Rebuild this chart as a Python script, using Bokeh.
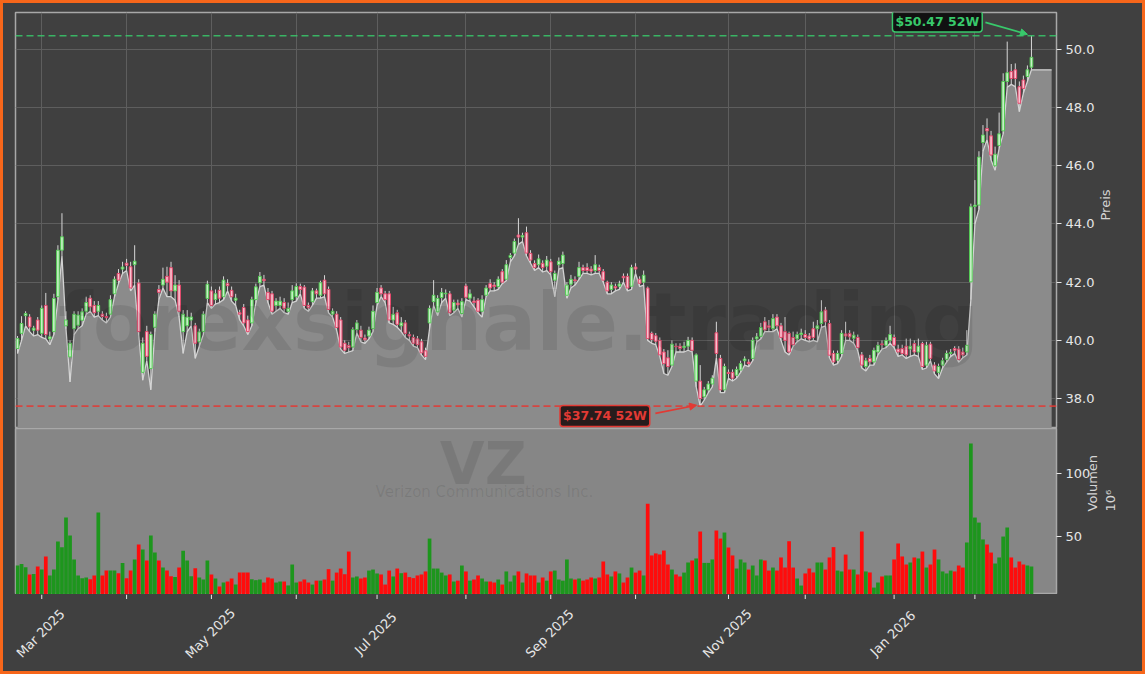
import math
import pandas as pd
from bokeh.plotting import figure
from bokeh.layouts import column
from bokeh.models import (Range1d, FixedTicker, PrintfTickFormatter, Span, Label, Arrow,
                          NormalHead, ColumnDataSource, Grid, GlobalInlineStyleSheet)
from bokeh.embed import file_html
from bokeh.resources import INLINE

symbol = "VZ"
company = "Verizon Communications Inc."
watermark = "forexsignale.trading"
price_label = "Preis"
volume_label = "Volumen\n10\u2076"

opens = [
    39.72, 40.24, 40.85, 40.80, 40.35, 40.70, 40.24, 41.20, 40.05, 40.30,
    41.50, 43.10, 40.70, 39.43, 40.40, 40.52, 40.69, 41.00, 41.45, 41.20,
    41.00, 40.90, 40.78, 40.90, 41.60, 42.30, 42.45, 42.65, 42.53, 42.60,
    41.97, 38.90, 40.30, 39.03, 40.45, 41.75, 41.90, 42.20, 42.50, 41.70,
    41.90, 40.90, 40.50, 40.70, 40.50, 39.95, 40.30, 41.44, 41.70, 41.40,
    41.72, 41.50, 41.95, 41.72, 41.38, 40.95, 41.13, 40.70, 40.60, 41.40,
    41.98, 42.10, 41.65, 41.60, 41.20, 41.35, 41.30, 41.10, 41.40, 41.50,
    41.85, 41.83, 41.20, 41.33, 41.60, 41.55, 42.07, 41.75, 41.00, 40.90,
    40.70, 39.90, 39.82, 39.77, 40.37, 40.35, 40.08, 40.15, 40.40, 41.30,
    41.80, 41.60, 41.60, 40.70, 40.95, 40.50, 40.60, 40.20, 40.10, 40.05,
    39.95, 39.64, 40.60, 41.33, 40.98, 41.47, 41.60, 41.60, 41.04, 41.28,
    40.92, 41.87, 41.45, 41.30, 41.38, 41.00, 41.55, 41.80, 41.90, 41.85,
    42.36, 42.10, 42.85, 43.00, 43.55, 43.60, 43.70, 42.99, 42.64, 42.60,
    42.65, 42.55, 42.70, 42.07, 42.60, 42.64, 41.55, 41.93, 42.05, 42.20,
    42.50, 42.40, 42.45, 42.40, 42.50, 42.36, 42.00, 41.75, 41.85, 41.86,
    42.15, 42.20, 41.86, 42.52, 42.10, 42.00, 41.80, 40.24, 40.16, 40.00,
    39.60, 39.10, 39.15, 39.80, 39.80, 39.75, 39.80, 40.00, 39.50, 38.60,
    38.06, 38.30, 38.50, 40.26, 39.38, 38.30, 38.90, 38.90, 38.80, 38.98,
    39.30, 39.25, 39.38, 40.05, 40.14, 40.64, 40.45, 40.40, 40.80, 40.50,
    40.00, 40.24, 39.85, 40.05, 40.20, 40.20, 40.15, 40.10, 40.40, 40.58,
    41.04, 40.58, 39.55, 39.32, 39.55, 40.22, 40.24, 40.18, 40.10, 39.50,
    39.10, 39.38, 39.26, 39.60, 39.85, 39.83, 40.00, 40.10, 39.70, 39.72,
    39.50, 39.80, 39.89, 39.60, 39.89, 39.15, 39.87, 39.15, 38.90, 39.15,
    39.34, 39.55, 39.72, 39.70, 39.50, 39.60, 42.01, 44.60, 44.65, 46.80,
    47.28, 47.03, 46.00, 46.70, 47.20, 48.90, 49.24, 49.00, 48.72, 48.95,
    49.07, 49.39]

highs = [
    40.15, 40.83, 41.00, 40.90, 40.50, 40.80, 41.20, 41.63, 40.30, 41.60,
    43.27, 44.37, 41.00, 40.00, 41.00, 41.00, 41.10, 41.50, 41.55, 41.35,
    41.35, 41.00, 40.95, 41.55, 42.20, 42.45, 42.70, 42.80, 42.70, 43.27,
    42.10, 40.10, 40.50, 40.30, 41.00, 41.90, 42.50, 42.53, 42.70, 42.24,
    42.07, 41.04, 41.04, 40.95, 40.60, 40.40, 41.00, 42.05, 41.85, 41.75,
    41.85, 42.20, 42.10, 41.85, 41.60, 41.05, 41.25, 40.85, 41.50, 41.95,
    42.35, 42.25, 41.80, 41.70, 41.45, 41.50, 41.45, 41.30, 41.90, 41.96,
    41.95, 41.90, 41.30, 41.80, 41.78, 42.05, 42.24, 41.85, 41.10, 41.00,
    40.80, 40.00, 39.95, 40.45, 40.70, 40.50, 40.20, 40.47, 41.20, 41.80,
    41.90, 41.70, 41.70, 41.15, 41.05, 40.80, 40.70, 40.30, 40.20, 40.15,
    40.05, 39.75, 41.20, 42.07, 41.55, 41.80, 41.75, 41.70, 41.40, 41.40,
    41.45, 41.95, 41.75, 41.50, 41.45, 41.55, 41.90, 42.10, 42.00, 42.20,
    42.45, 42.76, 43.00, 43.50, 44.20, 43.70, 43.91, 43.10, 42.75, 42.95,
    42.75, 42.90, 42.80, 42.40, 42.85, 43.05, 42.00, 42.25, 42.20, 42.70,
    42.60, 42.65, 42.55, 42.93, 42.60, 42.45, 42.05, 42.00, 41.95, 42.05,
    42.30, 42.30, 42.60, 42.65, 42.20, 42.40, 41.85, 40.30, 40.25, 40.10,
    39.70, 39.66, 40.00, 39.90, 39.90, 39.95, 40.12, 40.10, 39.55, 39.15,
    38.40, 38.60, 38.80, 40.64, 39.50, 39.20, 39.00, 39.00, 39.10, 39.30,
    39.45, 39.35, 40.10, 40.25, 40.60, 40.80, 40.70, 40.90, 40.90, 40.60,
    40.80, 40.30, 40.30, 40.30, 40.40, 40.35, 40.25, 40.64, 40.70, 41.38,
    41.15, 40.70, 39.65, 39.65, 40.35, 40.64, 40.35, 40.30, 40.20, 39.60,
    39.40, 39.50, 39.75, 39.95, 40.00, 40.10, 40.50, 40.20, 39.85, 39.85,
    40.06, 40.06, 40.00, 40.06, 39.95, 39.95, 39.95, 39.25, 39.20, 39.40,
    39.65, 39.70, 39.80, 39.80, 39.75, 40.35, 44.70, 45.51, 46.50, 47.40,
    47.63, 47.20, 46.66, 47.83, 49.18, 50.27, 49.50, 49.52, 48.90, 49.10,
    49.45, 50.47]

lows = [
    39.55, 40.00, 40.50, 40.30, 40.15, 40.20, 40.10, 40.05, 39.85, 40.20,
    41.40, 42.90, 40.40, 38.57, 40.20, 40.40, 40.50, 40.90, 41.00, 40.80,
    40.85, 40.70, 40.60, 40.80, 41.50, 41.95, 42.30, 42.40, 41.70, 41.90,
    40.20, 38.63, 39.30, 38.30, 40.30, 41.40, 41.80, 41.50, 41.50, 41.38,
    40.80, 39.55, 40.30, 40.50, 39.38, 39.80, 40.20, 41.30, 41.10, 41.25,
    41.30, 41.40, 41.70, 41.35, 41.20, 40.70, 40.50, 40.20, 40.50, 41.30,
    41.85, 41.90, 41.30, 40.90, 41.00, 41.10, 40.95, 40.90, 41.30, 41.35,
    41.60, 41.10, 41.00, 41.20, 41.45, 41.45, 41.50, 40.95, 40.80, 40.35,
    39.70, 39.55, 39.60, 39.65, 40.25, 39.95, 39.90, 40.05, 40.30, 41.20,
    41.50, 41.30, 40.60, 40.55, 40.45, 40.30, 40.10, 40.00, 39.80, 39.75,
    39.50, 39.34, 40.40, 41.20, 40.85, 41.30, 41.45, 40.85, 40.95, 41.10,
    40.80, 41.40, 41.35, 41.15, 40.95, 40.80, 41.50, 41.70, 41.70, 41.75,
    41.95, 42.05, 42.70, 42.90, 43.30, 43.40, 42.90, 42.65, 42.40, 42.50,
    42.35, 42.40, 42.25, 41.50, 42.45, 42.50, 41.45, 41.80, 41.90, 42.10,
    42.30, 42.30, 42.25, 42.30, 42.30, 42.00, 41.60, 41.60, 41.70, 41.75,
    42.00, 41.70, 41.75, 42.30, 41.85, 41.90, 40.00, 39.90, 39.85, 39.45,
    38.86, 38.80, 39.10, 39.60, 39.60, 39.60, 39.66, 39.60, 38.40, 37.74,
    37.95, 38.20, 38.40, 39.40, 38.20, 38.20, 38.70, 38.60, 38.70, 38.90,
    39.15, 39.10, 39.30, 39.95, 40.05, 40.30, 40.30, 40.30, 40.40, 40.00,
    39.60, 39.50, 39.80, 39.95, 40.05, 40.00, 39.95, 40.00, 39.95, 40.45,
    40.50, 39.40, 39.15, 39.20, 39.45, 40.00, 40.00, 39.90, 39.65, 39.05,
    38.95, 39.15, 39.15, 39.50, 39.70, 39.75, 39.90, 39.75, 39.45, 39.50,
    39.38, 39.45, 39.50, 39.45, 39.00, 39.05, 39.30, 38.85, 38.69, 39.05,
    39.25, 39.45, 39.55, 39.25, 39.40, 39.50, 41.40, 44.00, 44.50, 46.50,
    46.90, 46.20, 45.85, 46.60, 47.10, 48.70, 48.80, 48.72, 47.86, 48.50,
    48.90, 49.30]

closes = [
    40.06, 40.58, 40.92, 40.46, 40.42, 40.35, 41.10, 40.20, 40.12, 41.44,
    43.10, 43.56, 40.50, 39.90, 40.90, 40.87, 40.98, 41.30, 41.15, 40.95,
    41.20, 40.82, 40.82, 41.40, 42.10, 42.07, 42.52, 42.58, 41.80, 42.72,
    40.30, 39.90, 39.45, 40.20, 40.90, 41.65, 42.10, 42.00, 41.70, 41.90,
    41.00, 40.30, 40.80, 40.80, 39.90, 40.29, 40.90, 41.93, 41.20, 41.60,
    41.45, 42.07, 41.88, 41.50, 41.45, 40.90, 40.60, 40.30, 41.40, 41.84,
    42.20, 42.05, 41.40, 41.00, 41.35, 41.20, 41.10, 41.00, 41.70, 41.85,
    41.75, 41.20, 41.12, 41.70, 41.70, 41.98, 41.60, 41.06, 40.90, 40.44,
    39.77, 39.66, 39.75, 40.37, 40.60, 40.10, 40.02, 40.35, 41.00, 41.65,
    41.60, 41.40, 40.70, 40.90, 40.55, 40.60, 40.24, 40.15, 39.90, 39.85,
    39.57, 39.45, 41.10, 41.55, 41.44, 41.64, 41.62, 40.95, 41.30, 41.22,
    41.33, 41.48, 41.60, 41.35, 41.00, 41.40, 41.80, 41.95, 41.85, 42.10,
    42.00, 42.60, 42.92, 43.40, 43.62, 43.55, 43.00, 42.76, 42.50, 42.80,
    42.50, 42.76, 42.36, 42.30, 42.72, 42.93, 41.90, 42.10, 42.08, 42.50,
    42.40, 42.50, 42.38, 42.60, 42.40, 42.07, 41.70, 41.90, 41.80, 41.94,
    42.20, 41.80, 42.50, 42.45, 41.96, 42.24, 40.06, 40.03, 39.97, 39.50,
    39.20, 39.40, 39.87, 39.78, 39.72, 39.80, 40.00, 39.66, 38.60, 38.00,
    38.30, 38.50, 38.70, 39.55, 38.30, 39.10, 38.86, 38.70, 39.00, 39.20,
    39.36, 39.20, 40.00, 40.12, 40.44, 40.36, 40.50, 40.75, 40.50, 40.10,
    40.30, 39.60, 40.10, 40.20, 40.25, 40.10, 40.05, 40.40, 40.50, 40.98,
    40.64, 39.49, 39.26, 39.55, 40.24, 40.15, 40.12, 40.07, 39.75, 39.15,
    39.30, 39.26, 39.66, 39.83, 39.88, 40.00, 40.20, 39.83, 39.60, 39.55,
    39.80, 39.70, 39.60, 39.80, 39.10, 39.83, 39.38, 38.95, 39.10, 39.30,
    39.55, 39.58, 39.66, 39.34, 39.60, 39.83, 44.59, 44.65, 46.30, 47.06,
    47.20, 46.37, 46.40, 47.10, 48.90, 49.20, 49.00, 49.30, 48.15, 48.66,
    49.30, 49.73]

# volume in millions of shares
volumes = [
    26.7, 28.0, 25.4, 19.6, 20.0, 25.9, 23.5, 33.9, 18.8, 23.5,
    45.8, 41.3, 64.8, 50.5, 31.5, 18.8, 16.7, 17.2, 15.9, 18.8,
    68.8, 18.8, 22.7, 22.7, 22.7, 20.6, 28.8, 16.7, 22.7, 31.5,
    43.4, 39.4, 30.7, 50.5, 37.0, 30.7, 25.1, 22.7, 18.2, 17.5,
    25.1, 38.5, 30.7, 18.2, 24.6, 17.2, 15.6, 30.7, 19.6, 16.4,
    10.0, 13.2, 14.0, 16.4, 11.6, 21.1, 21.1, 21.1, 15.9, 15.1,
    15.6, 13.2, 17.2, 16.4, 13.2, 14.0, 14.0, 10.9, 27.5, 13.2,
    14.0, 15.6, 13.2, 11.6, 14.7, 14.7, 15.6, 23.8, 14.7, 21.1,
    24.3, 19.8, 37.8, 17.2, 18.0, 16.4, 17.2, 22.7, 23.5, 20.4,
    19.6, 11.6, 22.7, 18.0, 24.3, 20.6, 21.1, 17.5, 16.7, 18.8,
    19.6, 22.0, 48.1, 24.3, 24.3, 21.1, 18.8, 19.6, 14.0, 14.7,
    26.7, 22.0, 14.7, 15.6, 18.8, 16.4, 14.0, 14.0, 13.2, 15.6,
    11.6, 22.0, 14.0, 18.8, 22.0, 13.2, 20.4, 18.8, 18.8, 13.2,
    17.2, 14.7, 22.0, 22.7, 15.6, 14.7, 31.5, 16.4, 15.6, 16.4,
    14.7, 15.6, 17.2, 16.4, 17.2, 29.9, 19.6, 18.0, 22.0, 20.4,
    13.2, 17.2, 25.1, 21.1, 22.7, 18.8, 75.7, 34.7, 36.3, 35.5,
    38.6, 27.5, 23.5, 19.6, 18.0, 21.1, 29.1, 30.7, 32.3, 53.7,
    28.8, 28.8, 31.5, 54.5, 48.1, 52.9, 41.0, 34.7, 24.3, 31.5,
    29.1, 23.5, 26.7, 18.8, 31.5, 30.7, 22.7, 25.1, 22.7, 33.1,
    25.1, 46.0, 25.1, 16.4, 10.8, 20.4, 24.3, 21.2, 29.1, 29.1,
    23.5, 33.1, 41.3, 22.7, 22.0, 35.4, 23.5, 23.5, 19.6, 53.7,
    22.0, 21.2, 9.2, 13.2, 18.0, 18.8, 18.8, 31.5, 44.2, 33.9,
    27.5, 29.1, 33.1, 32.3, 37.8, 25.1, 27.5, 39.4, 31.5, 22.0,
    20.4, 22.7, 22.0, 26.7, 25.1, 45.0, 123.6, 64.8, 60.8, 47.4,
    43.4, 37.0, 28.3, 33.1, 49.7, 56.9, 33.1, 25.1, 29.9, 27.5,
    26.7, 25.9]

# g = up day, r = down day
day_dir = ("gggrgrgrgg" "ggggggggrr" "grrggrgrrg" "rgrggrgrrg" "rgggrgggrg"
           "rgrrgrrrgg" "grrrggrggg" "rrrgrgrrgr" "rrrggrrggg" "rrrgrgrrrr"
           "rrgggggrgr" "grgrrggrrg" "rgggrgrrrg" "rgrgggggrg" "rrrgrrrgrg"
           "rrgrrgrrrr" "rrgrrggrgr" "gggrrgrrgg" "grgggrrgrr" "rrrggrrrgg"
           "rrrggrrgrr" "grggrggrrr" "rgrgrgrrgg" "ggrrrggggg" "rrggggrrrr" "gg")

holidays = ["2025-04-18", "2025-05-26", "2025-06-19", "2025-07-04", "2025-09-01",
            "2025-11-27", "2025-12-25", "2026-01-01", "2026-01-19", "2026-02-16"]

price_ticks = [38, 40, 42, 44, 46, 48, 50]
volume_ticks = [50, 100]

n = min(len(opens), len(highs), len(lows), len(closes), len(volumes), len(day_dir))
days = [d for d in pd.bdate_range("2025-02-21", "2026-04-30")
        if d.strftime("%Y-%m-%d") not in holidays][:n]
idx = list(range(n))

month_ticks, month_text = [], {}
for i in range(1, n):
    if days[i].month != days[i - 1].month:
        month_ticks.append(i)
        month_text[i] = days[i].strftime("%b %Y") if days[i].month % 2 == 1 else ""

up = [day_dir[i] == "g" for i in range(n)]
src = ColumnDataSource(dict(
    x=idx, h=highs[:n], l=lows[:n],
    top=[max(opens[i], closes[i]) for i in range(n)],
    bot=[min(opens[i], closes[i]) for i in range(n)],
    bf=["#c6f0c6" if u else "#f7c2cf" for u in up],
    bl=["#55cc55" if u else "#e6486c" for u in up],
    v=volumes[:n],
    vc=["#1d961d" if u else "#ff0c0c" for u in up],
))

DARK = "#404040"
FONT = "DejaVu Sans"
TXT = "#e6e6e6"
W = 1139
LB, RB = 12, 86

xr = Range1d(-0.5, n + 5.2)
p_lo, p_hi = 36.97, 51.27
v_lo, v_hi = 3.7, 135.5


def style_axis(ax):
    ax.major_label_text_font = FONT
    ax.major_label_text_font_size = "13px"
    ax.major_label_text_color = TXT
    ax.major_tick_line_color = TXT
    ax.major_tick_out = 5
    ax.major_tick_in = 0
    ax.minor_tick_line_color = None
    ax.axis_line_color = None
    ax.major_label_standoff = 4
    ax.axis_label_text_font = FONT
    ax.axis_label_text_font_size = "13px"
    ax.axis_label_text_font_style = "normal"
    ax.axis_label_text_color = "#d4d4d4"
    ax.axis_label_standoff = 8
    try:
        ax.axis_label_orientation = math.pi / 2
    except Exception:
        pass


# ---------------- price panel ----------------
p1 = figure(width=W, height=425, x_range=xr, y_range=Range1d(p_lo, p_hi),
            x_axis_location=None, y_axis_location="right",
            toolbar_location=None, output_backend="svg",
            min_border_left=LB, min_border_right=RB, min_border_top=9, min_border_bottom=0)
p1.background_fill_color = DARK
p1.border_fill_color = DARK
p1.outline_line_color = "#a8a8a8"
p1.outline_line_width = 1.5
p1.xgrid.visible = False
p1.add_layout(Grid(dimension=0, ticker=FixedTicker(ticks=month_ticks),
                   grid_line_color="#5e5e5e", grid_line_width=1))
p1.yaxis.ticker = FixedTicker(ticks=price_ticks)
p1.ygrid.ticker = FixedTicker(ticks=price_ticks)
p1.ygrid.grid_line_color = "#5e5e5e"
p1.yaxis.formatter = PrintfTickFormatter(format="%.1f")
p1.yaxis.axis_label = price_label
style_axis(p1.yaxis[0])

area_x = idx + [n + 4]
area_y = lows[:n] + [lows[n - 1]]
p1.varea(x=area_x, y1=p_lo - 5, y2=area_y, fill_color="#8b8b8b")
p1.line(area_x, area_y, line_color="#d2d2d2", line_width=1.3)

p1.add_layout(Label(x=124, y=40.6, text=watermark, text_font=FONT, text_font_style="bold",
                    text_font_size="80px", text_color="black", text_alpha=0.09,
                    text_align="center", text_baseline="middle"))

hi = max(highs[:n]); hi_i = highs.index(hi)
lo = min(lows[:n]); lo_i = lows.index(lo)
GREEN = "#38c96b"
RED = "#e23a34"
p1.add_layout(Span(location=hi, dimension="width", line_color=GREEN, line_dash="7 4",
                   line_width=1.6, line_alpha=0.85))
p1.add_layout(Span(location=lo, dimension="width", line_color=RED, line_dash="7 4",
                   line_width=1.6, line_alpha=0.85))

p1.segment(x0="x", y0="l", x1="x", y1="h", source=src, line_color="#d6d6d6", line_width=1)
p1.vbar(x="x", width=0.66, top="top", bottom="bot", source=src,
        fill_color="bf", line_color="bl", line_width=1)

p1.add_layout(Arrow(end=NormalHead(size=7, fill_color=GREEN, line_color=GREEN),
                    x_start=hi_i - 11.4, y_start=hi + 0.46, x_end=hi_i - 1, y_end=hi + 0.05,
                    line_color=GREEN, line_width=1.6))
p1.add_layout(Label(x=hi_i - 23.3, y=hi + 0.49, text=f"${hi:.2f} 52W",
                    text_font=FONT, text_font_style="bold", text_font_size="12.5px",
                    text_color=GREEN, text_align="center", text_baseline="middle",
                    background_fill_color="#0c0c0c", background_fill_alpha=0.9,
                    border_line_color=GREEN, border_line_width=1.5, padding=3, border_radius=3))
p1.add_layout(Arrow(end=NormalHead(size=7, fill_color=RED, line_color=RED),
                    x_start=lo_i - 11.1, y_start=lo - 0.25, x_end=lo_i - 0.9, y_end=lo + 0.03,
                    line_color=RED, line_width=1.6))
p1.add_layout(Label(x=lo_i - 23.6, y=lo - 0.34, text=f"${lo:.2f} 52W",
                    text_font=FONT, text_font_style="bold", text_font_size="12.5px",
                    text_color=RED, text_align="center", text_baseline="middle",
                    background_fill_color="#1c1010", background_fill_alpha=0.9,
                    border_line_color=RED, border_line_width=1.5, padding=3, border_radius=3))

# ---------------- volume panel ----------------
p2 = figure(width=W, height=166, x_range=xr, y_range=Range1d(v_lo, v_hi),
            x_axis_location=None, y_axis_location="right",
            toolbar_location=None, output_backend="svg",
            min_border_left=LB, min_border_right=RB, min_border_top=0, min_border_bottom=0)
p2.background_fill_color = "#868686"
p2.border_fill_color = DARK
p2.outline_line_color = "#a8a8a8"
p2.outline_line_width = 1.5
p2.xgrid.visible = False
p2.ygrid.visible = False
p2.vbar(x="x", width=0.92, top="v", bottom=0, source=src, fill_color="vc", line_color=None)

p2.yaxis.ticker = FixedTicker(ticks=volume_ticks)
p2.yaxis.formatter = PrintfTickFormatter(format="%d")
p2.yaxis.axis_label = volume_label
style_axis(p2.yaxis[0])

p2.add_layout(Label(x=115.3, y=107.0, text=symbol, text_font=FONT, text_font_style="bold",
                    text_font_size="58px", text_color="black", text_alpha=0.09,
                    text_align="center", text_baseline="middle"))
p2.add_layout(Label(x=115.6, y=85.0, text=company, text_font=FONT,
                    text_font_size="15px", text_color="black", text_alpha=0.09,
                    text_align="center", text_baseline="middle"))

# ---------------- date axis strip ----------------
AX_H = 77
p3 = figure(width=W, height=AX_H, x_range=xr, y_range=Range1d(0, AX_H),
            x_axis_location=None, y_axis_location=None,
            toolbar_location=None, output_backend="svg",
            min_border_left=LB, min_border_right=RB, min_border_top=0, min_border_bottom=0)
p3.background_fill_color = DARK
p3.border_fill_color = DARK
p3.outline_line_color = None
p3.grid.visible = False
p3.segment(x0=month_ticks, y0=[AX_H] * len(month_ticks), x1=month_ticks,
           y1=[AX_H - 4.5] * len(month_ticks), line_color=TXT, line_width=1)
for t in month_ticks:
    if month_text[t]:
        p3.add_layout(Label(x=t - 0.3, y=AX_H - 39, text=month_text[t], angle=math.pi / 4,
                            text_align="center", text_baseline="middle", text_font=FONT,
                            text_font_size="13px", text_color=TXT))

layout = column(p1, p2, p3, stylesheets=[GlobalInlineStyleSheet(
    css="html{background:#404040;} body{margin:0;border:3px solid #f7661a;background:#404040;}")])

open("out.html", "w").write(file_html(layout, INLINE))
